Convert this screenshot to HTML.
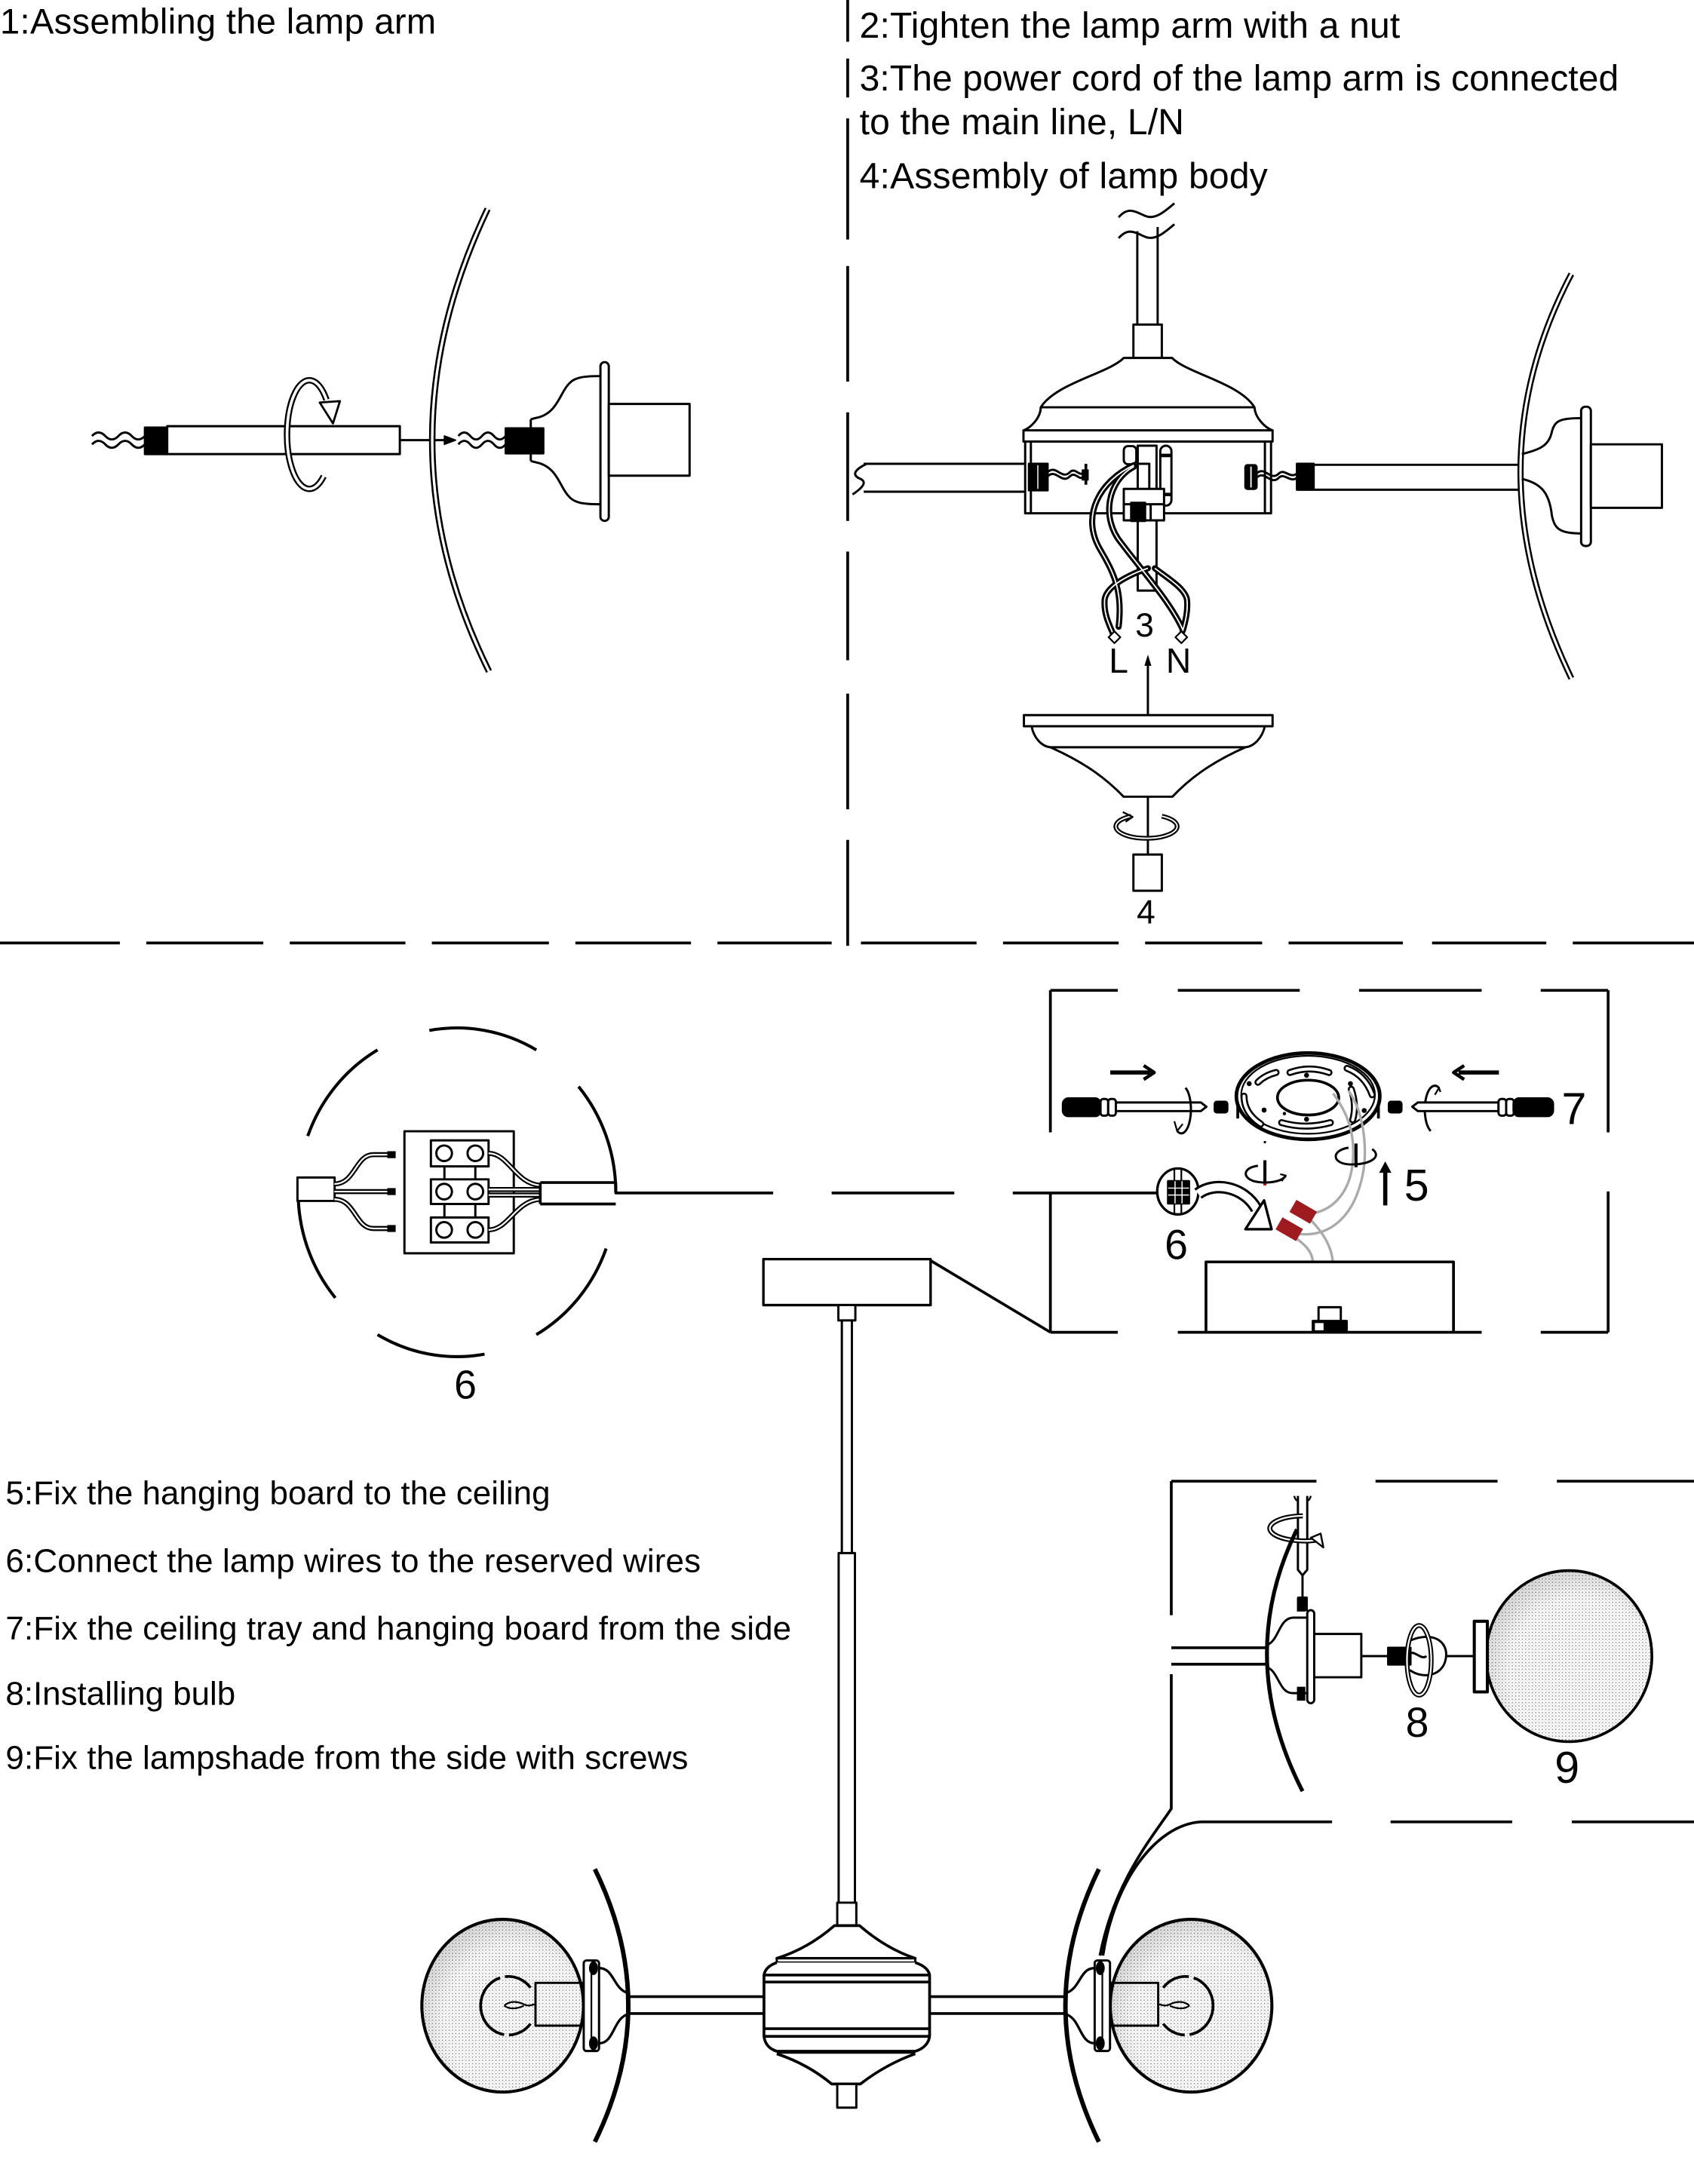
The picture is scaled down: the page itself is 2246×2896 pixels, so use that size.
<!DOCTYPE html>
<html><head><meta charset="utf-8">
<style>
html,body{margin:0;padding:0;background:#fff}
svg{display:block}
text{font-family:"Liberation Sans",Arial,sans-serif;fill:#000;stroke:none}
</style></head><body>
<svg xmlns="http://www.w3.org/2000/svg" width="2246" height="2896" viewBox="0 0 1216 1568">
<defs>
<pattern id="dots" width="2.4" height="2.4" patternUnits="userSpaceOnUse">
<rect width="2.4" height="2.4" fill="#fff"/>
<circle cx="0.8" cy="0.8" r="0.5" fill="#8a8a8a"/>
<circle cx="2" cy="1.9" r="0.3" fill="#aaa"/>
</pattern>
<radialGradient id="sg" cx="0.58" cy="0.6" r="0.62">
<stop offset="0.7" stop-color="#000" stop-opacity="0"/>
<stop offset="1" stop-color="#000" stop-opacity="0.14"/>
</radialGradient>
</defs>
<rect width="1216" height="1568" fill="#fff"/>

<!-- ============ TEXT ============ -->
<text x="0" y="24" font-size="25.5" textLength="313">1:Assembling the lamp arm</text>
<text x="617" y="27" font-size="26" textLength="388">2:Tighten the lamp arm with a nut</text>
<text x="617" y="65" font-size="26" textLength="545">3:The power cord of the lamp arm is connected</text>
<text x="617" y="96.5" font-size="26" textLength="233">to the main line, L/N</text>
<text x="617" y="135" font-size="26" textLength="293">4:Assembly of lamp body</text>

<text x="4" y="1080" font-size="23.8" textLength="391">5:Fix the hanging board to the ceiling</text>
<text x="4" y="1128.5" font-size="23.8" textLength="499">6:Connect the lamp wires to the reserved wires</text>
<text x="4" y="1177" font-size="23.8" textLength="564">7:Fix the ceiling tray and hanging board from the side</text>
<text x="4" y="1224" font-size="23.8" textLength="165">8:Installing bulb</text>
<text x="4" y="1270" font-size="23.8" textLength="490">9:Fix the lampshade from the side with screws</text>

<text x="815" y="457" font-size="24">3</text>
<text x="796" y="483" font-size="25">L</text>
<text x="837" y="483" font-size="25">N</text>
<text x="872" y="352" font-size="24">2</text>
<text x="816" y="663" font-size="24">4</text>
<text x="326" y="1004" font-size="29">6</text>
<text x="836" y="904" font-size="30">6</text>
<text x="1008" y="862" font-size="32">5</text>
<text x="1121" y="807" font-size="32">7</text>
<text x="1009" y="1247" font-size="30">8</text>
<text x="1116" y="1280" font-size="32">9</text>
<text x="304" y="827.7" font-size="9" transform="rotate(90 300.6 827.7)">N</text>
<text x="296" y="859.5" font-size="11">O</text>
<text x="304" y="881.2" font-size="9" transform="rotate(90 300.6 881.2)">L</text>

<g fill="none" stroke="#000" stroke-width="1.6" stroke-linejoin="round">

<!-- ============ DIVIDERS ============ -->
<g stroke-width="2">
<path d="M608.5,0V30M608.5,42V70M608.5,85V172M608.5,191V274M608.5,296V374M608.5,396V474M608.5,498V581M608.5,603V679"/>
<path d="M0,677H86M105,677H189M208,677H291M310,677H394M413,677H496M515,677H597M618,677H701M720,677H803M822,677H906M925,677H1007M1028,677H1110M1129,677H1216"/>
</g>

<!-- ============ STEP 1 ============ -->
<path d="M66,313 q4.75,-5 9.5,0 t9.5,0 t9.5,0 t9.5,0"/>
<path d="M66,319 q4.75,-5 9.5,0 t9.5,0 t9.5,0 t9.5,0"/>
<rect x="104" y="307" width="16" height="19" fill="#000"/>
<rect x="120" y="306" width="167" height="20" fill="#fff"/>
<path d="M287,316H321"/>
<path d="M319,313 L327,316 L319,319Z" fill="#000" stroke-width="1"/>
<path d="M232.3,341.9 A16,39 0 1 1 234.3,287" stroke-width="4.6"/>
<path d="M232.3,341.9 A16,39 0 1 1 234.3,287" stroke="#fff" stroke-width="2"/>
<path d="M229.5,289 L244,288 L239,304 Z" fill="#fff" stroke-width="1.5"/>
<path d="M350,150 Q270,318 351,482" stroke-width="4.6"/>
<path d="M350,150 Q270,318 351,482" stroke="#fff" stroke-width="1.8"/>
<path d="M329,313 q4.25,-5 8.5,0 t8.5,0 t8.5,0 t8.5,0"/>
<path d="M329,319 q4.25,-5 8.5,0 t8.5,0 t8.5,0 t8.5,0"/>
<path d="M381,301 L385,300 C400,297 402,282 408,276 C412,271 418,270 431,270"/>
<path d="M381,331 L385,332 C400,335 402,350 408,356 C412,361 418,362 431,362"/>
<path d="M381,301V331"/>
<rect x="363" y="307.5" width="27" height="18" fill="#000"/>
<rect x="431" y="260" width="6" height="114" rx="3" fill="#fff"/>
<rect x="437" y="290" width="58" height="51.5" fill="#fff"/>

<!-- ============ STEP 2-4 ============ -->
<path d="M803,156 C810,148 815,152 822,155 C829,158 836,152 843,146"/>
<path d="M803,171 C810,163 815,167 822,170 C829,173 836,167 843,161"/>
<path d="M816.4,166V233M831,163V233"/>
<rect x="813.6" y="233" width="20.4" height="24" fill="#fff"/>
<path d="M806.6,257 H841.4 C852,268 890,275 900.5,292.4 C901,300 908,307 913.5,309 H734.7 C740,307 747,300 747.1,292.4 C758,275 796,268 806.6,257 Z" fill="#fff"/>
<path d="M747.1,292.4H900.5"/>
<rect x="734.7" y="309" width="178.8" height="8" fill="#fff"/>
<rect x="735.9" y="317" width="176.5" height="51.5" fill="#fff"/>
<path d="M740,317V368.5M908,317V368.5"/>
<!-- left arm -->
<path d="M620,333H736M620,353H736"/>
<path d="M622,333 Q608,340 618,344 Q624,347 612,355"/>
<rect x="738.6" y="333" width="13.4" height="19" fill="#000"/>
<path d="M745,334V351" stroke="#fff" stroke-width="0.8"/>
<path d="M752,339 C758,333 762,345 768,339 C772,335 775,343 778,339"/>
<path d="M752,342 C758,336 762,348 768,342 C772,338 775,346 778,342"/>
<path d="M779.5,333V348" stroke-width="2"/>
<rect x="776.5" y="337" width="5" height="8" fill="#000" stroke="none"/>
<!-- center parts -->
<rect x="806.7" y="320.3" width="9" height="13" rx="3" fill="#fff"/>
<rect x="816.7" y="320" width="13.5" height="104" fill="#fff"/>
<path d="M816.7,333H825V351"/>
<rect x="832.9" y="320" width="8" height="43" rx="4" fill="#fff"/>
<path d="M833,327H841M833,355H841" stroke-width="2.5"/>
<rect x="806.7" y="351" width="28.9" height="22.6" fill="#fff"/>
<rect x="812" y="361" width="10" height="13" fill="#000"/>
<path d="M806.7,362H835.6M826,362V373.6"/>
<!-- wires -->
<g stroke-width="4.4" stroke-linecap="round">
<path d="M814,334 C790,345 775,370 790,395 C800,412 806,425 803,450"/>
<path d="M814,335 C795,345 790,372 805,390 C820,410 840,432 849,452"/>
<path d="M824,408 C812,412 795,420 793,430 C792,440 796,448 799,455"/>
<path d="M829,408 C838,415 850,422 852,430 C853,438 851,446 849,453"/>
</g>
<g stroke="#fff" stroke-width="1">
<path d="M814,334 C790,345 775,370 790,395 C800,412 806,425 803,450"/>
<path d="M814,335 C795,345 790,372 805,390 C820,410 840,432 849,452"/>
<path d="M824,408 C812,412 795,420 793,430 C792,440 796,448 799,455"/>
<path d="M829,408 C838,415 850,422 852,430 C853,438 851,446 849,453"/>
</g>
<rect x="797" y="454.5" width="6" height="6" fill="#fff" stroke-width="1.2" transform="rotate(45 800 457.5)"/>
<rect x="845" y="454.5" width="6" height="6" fill="#fff" stroke-width="1.2" transform="rotate(45 848 457.5)"/>
<path d="M824,513.4V476"/>
<path d="M821.5,478 L824,470 L826.5,478Z" fill="#000" stroke="none"/>
<!-- right arm -->
<rect x="894" y="334" width="8" height="17" rx="1.5" fill="#000"/>
<path d="M898,335V350" stroke="#fff" stroke-width="1"/>
<path d="M902,340 C908,334 912,346 918,340 C922,336 926,344 931,340"/>
<path d="M902,343 C908,337 912,349 918,343 C922,339 926,347 931,343"/>
<rect x="931" y="333" width="12" height="18.6" fill="#000"/>
<path d="M943,333.7H1092M943,351.6H1092"/>
<path d="M1128,196.7 Q1055,335 1128,487" stroke-width="4.4"/>
<path d="M1128,196.7 Q1055,335 1128,487" stroke="#fff" stroke-width="1.7"/>
<path d="M1092.4,326 C1105,323 1112,320 1114,310 C1116,302 1120,300.2 1135,300.2"/>
<path d="M1092.4,343.7 C1105,347 1112,352 1114,370 C1116,380 1120,383 1135,383"/>
<rect x="1135" y="292" width="7" height="100" rx="3" fill="#fff"/>
<rect x="1142" y="319" width="51" height="45.6" fill="#fff"/>
<!-- lower cup -->
<rect x="735" y="513.4" width="178.5" height="8" fill="#fff"/>
<path d="M740.5,521.3 C742,530 748,536 754,536.5 H894 C900,536 906,530 908,521.3"/>
<path d="M754,536.5 C780,548 795,560 806.6,572 H841.6 C853,560 868,548 894,536.5"/>
<path d="M824,572V613.5"/>
<path d="M812,586 A22,8.5 0 1 0 834,586" stroke-width="3.4"/>
<path d="M812,586 A22,8.5 0 1 0 834,586" stroke="#fff" stroke-width="1"/>
<path d="M806,583 L813,586.5 L808,590" stroke-width="1.3"/>
<rect x="813.6" y="613.5" width="20.4" height="26" fill="#fff"/>

<!-- ============ STEP 6 CIRCLE ============ -->
<g stroke-width="2.2">
<path d="M308.2,739.8 A114,118 0 0 1 385,753.8"/>
<path d="M220.9,815.6 A114,118 0 0 1 271,753.8"/>
<path d="M240.7,931.8 A114,118 0 0 1 214,856"/>
<path d="M347.8,972.2 A114,118 0 0 1 271,958.2"/>
<path d="M435.1,896.4 A114,118 0 0 1 385,958.2"/>
<path d="M415.3,780.1 A114,118 0 0 1 442,856"/>
</g>
<rect x="290.3" y="812.2" width="78.5" height="87.6" fill="#fff"/>
<rect x="309.3" y="818.7" width="41.4" height="18.7" fill="#fff"/>
<rect x="309.3" y="846.7" width="41.4" height="17.7" fill="#fff"/>
<rect x="309.3" y="874.1" width="41.4" height="17.9" fill="#fff"/>
<path d="M319,837.4V846.7M341.2,837.4V846.7M319,864.4V874.1M341.2,864.4V874.1"/>
<circle cx="318.8" cy="828" r="5.6"/><circle cx="341.2" cy="828" r="5.6"/>
<circle cx="318.8" cy="855.5" r="5.6"/><circle cx="341.2" cy="855.5" r="5.6"/>
<circle cx="318.8" cy="883" r="5.6"/><circle cx="341.2" cy="883" r="5.6"/>
<rect x="213.5" y="845.4" width="26.7" height="16.8" fill="#fff"/>
<g stroke-width="3.6">
<path d="M240,850 C255,850 255,829 268,829 L279,829"/>
<path d="M240,855.5 L279,855.5"/>
<path d="M240,861 C255,861 255,882 268,882 L279,882"/>
<path d="M350.7,828 C365,828 370,850 387.8,851"/>
<path d="M350.7,854 L387.8,854"/>
<path d="M350.7,858 L387.8,858"/>
<path d="M350.7,883 C365,883 370,862 387.8,861"/>
</g>
<g stroke="#fff" stroke-width="1.2">
<path d="M240,850 C255,850 255,829 268,829 L279,829"/>
<path d="M240,855.5 L279,855.5"/>
<path d="M240,861 C255,861 255,882 268,882 L279,882"/>
<path d="M350.7,828 C365,828 370,850 387.8,851"/>
<path d="M350.7,854 L387.8,854"/>
<path d="M350.7,858 L387.8,858"/>
<path d="M350.7,883 C365,883 370,862 387.8,861"/>
</g>
<rect x="278" y="826.5" width="6" height="5" fill="#000" stroke="none"/>
<rect x="278" y="853" width="6" height="5" fill="#000" stroke="none"/>
<rect x="278" y="879.5" width="6" height="5" fill="#000" stroke="none"/>
<path d="M387.8,849 V864.4 M387.8,849 H442 V856.5 H555 M387.8,864.4 H442" stroke-width="2"/>
<path d="M597,856.5H685M727,856.5H831" stroke-width="2"/>

<!-- ============ STEP 5-7 BOX ============ -->
<g stroke-width="2">
<path d="M754,711H802.4M845.5,711H933M975.6,711H1063.6M1106,711H1154.4"/>
<path d="M754,711V813M754,856V956.5M1154.4,711V813M1154.4,855.4V956.5"/>
<path d="M754,956.5H802.4M845.5,956.5H1063.6M1106,956.5H1154.4"/>
<path d="M668,905 L754,956.5"/>
</g>
<rect x="548" y="904" width="120" height="33" fill="#fff" stroke-width="1.8"/>
<rect x="601.8" y="937" width="12.2" height="11" fill="#fff"/>
<path d="M604.3,948V1115M611.5,948V1115"/>
<rect x="602" y="1115" width="11.7" height="251" fill="#fff"/>
<!-- arrows -->
<path d="M797,770H826" stroke-width="3"/>
<path d="M821,765 L828.5,770 L821,775" stroke-width="2.4"/>
<path d="M1076,770H1047" stroke-width="3"/>
<path d="M1051,765 L1043.5,770 L1051,775" stroke-width="2.4"/>
<!-- left screwdriver -->
<rect x="763" y="788.6" width="27" height="12.7" rx="4" fill="#000"/>
<rect x="790" y="789" width="5.5" height="12" rx="2" fill="#fff"/>
<rect x="795.5" y="789" width="5.5" height="12" rx="2" fill="#fff"/>
<path d="M801,791.5 H862 L866,794.6 L862,797.7 H801 Z" fill="#fff"/>
<path d="M851,781 A6.7,16.7 0 1 1 845,812"/>
<path d="M843,805 L845,812 L849,807" stroke-width="1.2"/>
<rect x="872" y="791" width="9" height="7.6" rx="1.5" fill="#000"/>
<!-- right screwdriver -->
<rect x="997" y="791" width="9" height="7.6" rx="1.5" fill="#000"/>
<path d="M1033,781 A7,16.5 0 1 0 1027,812"/>
<path d="M1034,784 L1033,781 L1030,786" stroke-width="1.2"/>
<path d="M1075.7,791.5 H1017.8 L1013.8,794.6 L1017.8,797.7 H1075.7 Z" fill="#fff"/>
<rect x="1075.7" y="789" width="5.5" height="12" rx="2" fill="#fff"/>
<rect x="1081.2" y="789" width="5.5" height="12" rx="2" fill="#fff"/>
<rect x="1086.5" y="788.6" width="28.3" height="12.7" rx="4" fill="#000"/>
<!-- ceiling plate -->
<ellipse cx="939" cy="787" rx="51.5" ry="31" fill="#fff" stroke-width="2.6"/>
<ellipse cx="939" cy="786" rx="48" ry="28" stroke-width="1.2"/>
<ellipse cx="939" cy="788" rx="22" ry="12.5" stroke-width="2"/>
<g stroke-width="5" stroke-linecap="round">
<path d="M926,770 Q940,765 954,770"/><path d="M920,806 Q937,811 955,806"/>
<path d="M893,787 Q893,799 905,807"/><path d="M903,777 Q908,772 916,770"/>
<path d="M970,782 Q974,794 971,804"/><path d="M967,767 Q980,772 985,786"/>
</g>
<g stroke="#fff" stroke-width="2.2" stroke-linecap="round">
<path d="M926,770 Q940,765 954,770"/><path d="M920,806 Q937,811 955,806"/>
<path d="M893,787 Q893,799 905,807"/><path d="M903,777 Q908,772 916,770"/>
<path d="M970,782 Q974,794 971,804"/><path d="M967,767 Q980,772 985,786"/>
</g>
<g fill="#000" stroke="none">
<circle cx="896.7" cy="778" r="1.8"/><circle cx="937.9" cy="772" r="1.8"/><circle cx="969.4" cy="778" r="1.8"/>
<circle cx="907.4" cy="797" r="1.8"/><circle cx="979.3" cy="797.3" r="1.8"/><circle cx="937.9" cy="803.6" r="1.8"/>
<circle cx="922" cy="799.5" r="1.2"/><circle cx="908" cy="820" r="0.9"/>
</g>
<path d="M888.5,792V803M989.5,792V803" stroke-width="2"/>
<!-- grey wires -->
<g stroke="#aaa" stroke-width="1.8">
<path d="M957,785 C968,800 973,815 971,835 C969,855 958,868 943,871"/>
<path d="M968,783 C980,800 983,830 976,852 C970,872 956,888 933,886"/>
<path d="M940,875 C950,885 956,895 956.7,906"/>
<path d="M929,888 C936,893 942,898 942.4,906"/>
</g>
<rect x="927" y="865" width="17" height="10" fill="#9e1b1f" stroke="none" transform="rotate(30 935.5 870)"/>
<rect x="917" y="877.5" width="17" height="10" fill="#9e1b1f" stroke="none" transform="rotate(30 925.5 882.5)"/>
<!-- center screws -->
<path d="M908,833V851" stroke-width="2.2"/>
<circle cx="908" cy="850" r="1.1" fill="#c00" stroke="none"/>
<path d="M903,837 C893,838 891,845 900,848 C908,850 920,849 923,844" />
<path d="M919,843 L923,844 L920,848" stroke-width="1.2"/>
<path d="M973.4,821V838" stroke-width="2.2"/>
<path d="M968,824 C955,826 956,836 970,836 C985,836 992,830 985,825"/>
<path d="M994.4,865.4V840" stroke-width="3"/>
<path d="M990,842 L994.4,833.8 L998.8,842Z" fill="#000" stroke="none"/>
<!-- 6 icon -->
<ellipse cx="845.5" cy="855.4" rx="14.8" ry="16.5" fill="#fff" stroke-width="1.8"/>
<path d="M843,840V871M848,840V871" stroke-width="1.2"/>
<rect x="838.5" y="848" width="15" height="16" fill="#000"/>
<path d="M838.5,853H853.5M838.5,858H853.5M843.5,848V864M848.5,848V864" stroke="#fff" stroke-width="0.8"/>
<path d="M860,857 C872,848 893,852 902,868" stroke-width="9"/>
<path d="M860,857 C872,848 893,852 902,868" stroke="#fff" stroke-width="5.6"/>
<path d="M894,882.5 L912.8,882.5 L907.4,861.8 Z" fill="#fff" stroke-width="1.8"/>
<!-- ceiling box -->
<rect x="865.7" y="906" width="177.7" height="50.5" fill="#fff" stroke-width="2"/>
<rect x="946.5" y="938.5" width="16" height="11" fill="#fff"/>
<rect x="942.4" y="948.4" width="24.3" height="8.1" fill="#000"/>
<rect x="943.5" y="949.5" width="7" height="6" fill="#fff" stroke-width="0.8"/>

<!-- ============ STEP 8-9 BOX ============ -->
<g stroke-width="2">
<path d="M840.8,1063.4H945M987.4,1063.4H1075M1117.6,1063.4H1216"/>
<path d="M840.8,1063.4V1159.6M840.8,1202V1298.5 C828,1318 800,1350 789.6,1404"/>
<path d="M862,1308H956.2M998.2,1308H1085.5M1128.3,1308H1216"/>
<path d="M862,1308 C830,1310 800,1350 791.7,1404"/>
<path d="M840.8,1183H909.5M840.8,1194.8H909.5"/>
</g>
<!-- screwdriver top -->
<path d="M929,1074 Q931,1080 933,1075 M937,1075 Q939,1080 941,1074" stroke-width="1.3"/>
<path d="M931.7,1074 V1127 L935,1131 L938.4,1127 V1074" fill="#fff"/>
<path d="M935,1131V1148"/>
<rect x="932" y="1147" width="6" height="9" fill="#000"/>
<path d="M935.2,1088.3 A24.7,9 0 1 0 949,1105" stroke-width="3.6"/>
<path d="M935.2,1088.3 A24.7,9 0 1 0 949,1105" stroke="#fff" stroke-width="1.2"/>
<path d="M941,1104 L950,1111 L948,1101Z" fill="#fff" stroke-width="1.3"/>
<path d="M931,1098 Q886,1190 935,1286" stroke-width="2.8"/>
<path d="M909.5,1181 C918,1178 918,1162 928,1161.4 L938.4,1161.4"/>
<path d="M909.5,1197 C918,1200 918,1215.6 928,1215.6 L938.4,1215.6"/>
<rect x="938.4" y="1156" width="5" height="66.8" rx="2.5" fill="#fff"/>
<rect x="931" y="1147" width="6" height="10" fill="#000" stroke="none"/>
<rect x="931" y="1211" width="6" height="10" fill="#000" stroke="none"/>
<rect x="943.4" y="1173.1" width="33.8" height="31.1" fill="#fff"/>
<path d="M977.2,1189H996.5"/>
<!-- bulb -->
<path d="M1012,1178 C1030,1170 1042,1180 1037,1194 C1033,1204 1020,1205 1012,1199"/>
<path d="M1012,1187 C1016,1185 1020,1192 1024,1189"/>
<rect x="996.5" y="1183" width="16" height="12" fill="#000"/>
<ellipse cx="1018.7" cy="1192" rx="8.7" ry="25" stroke-width="3.4"/>
<ellipse cx="1018.7" cy="1192" rx="8.7" ry="25" stroke="#fff" stroke-width="1.2"/>
<path d="M1038.5,1189H1058.3"/>
<ellipse cx="1126.3" cy="1189" rx="59.5" ry="61.4" fill="url(#dots)" stroke="none"/>
<ellipse cx="1126.3" cy="1189" rx="59.5" ry="61.4" fill="url(#sg)" stroke-width="2"/>
<rect x="1058.3" y="1164" width="9.4" height="50.7" fill="#fff" stroke-width="2.2"/>

<!-- ============ CHANDELIER ============ -->
<rect x="601" y="1366" width="13.7" height="16.5" fill="#fff"/>
<path d="M599,1382.5 H617 Q636,1399 657,1406 H557.6 Q580,1399 599,1382.5Z" fill="#fff" stroke-width="2"/>
<path d="M557.6,1406 H657 V1409 H557.6 Z" fill="#fff" stroke-width="1.6"/>
<path d="M557.6,1409 C552,1411 549,1414 548.4,1418 V1462 C549,1467 552,1471 557.6,1472.7 H657 C663,1471 666.6,1467 667.3,1462 V1418 C666.6,1414 663,1411 657,1409" fill="#fff" stroke-width="2"/>
<path d="M548.4,1418H667.3M548.4,1423H667.3M548.4,1456.5H667.3M548.4,1462H667.3M557.6,1474.5H657" stroke-width="2"/>
<path d="M557.6,1474.5 Q580,1482 597,1496.2 H617.6 Q636,1482 657,1474.5" fill="#fff" stroke-width="2"/>
<rect x="601" y="1496.2" width="13.7" height="17" fill="#fff"/>

<g id="lampL">
<ellipse cx="360.8" cy="1440" rx="58" ry="62" fill="url(#dots)" stroke-width="2.2"/>
<path d="M380.8,1427.1 A20,21 0 1 0 380.8,1452.9" stroke-width="2" stroke-dasharray="21 3.5 55 3.5 40"/>
<path d="M362,1440 C366,1436 372,1437 376,1439 C380,1441 382,1439 384.4,1439 M362,1440 C366,1443 372,1442 376,1440" stroke-width="1.2"/>
<rect x="384.4" y="1423.6" width="34.3" height="30.7"/>
<path d="M430,1413 C441,1413 440,1428 451,1431" stroke-width="1.8"/>
<path d="M430,1467 C441,1467 440,1449 451,1446" stroke-width="1.8"/>
<rect x="419" y="1407.5" width="11" height="65" rx="2" fill="#fff"/>
<path d="M424.5,1410V1470" stroke-width="1.2"/>
<ellipse cx="426" cy="1413" rx="3.2" ry="5" fill="#000" stroke="none"/>
<ellipse cx="426" cy="1467" rx="3.2" ry="5" fill="#000" stroke="none"/>
<path d="M451,1433.5H548.4M451,1445.6H548.4" stroke-width="2"/>
<path d="M427,1341.9 Q475,1440 427,1537.7" stroke-width="3.2"/>
</g>
<use href="#lampL" transform="translate(1215.8,0) scale(-1,1)"/>
<ellipse cx="360.8" cy="1440" rx="58" ry="62" fill="url(#sg)" stroke="none"/>
<ellipse cx="855" cy="1440" rx="58" ry="62" fill="url(#sg)" stroke="none"/>

</g>
</svg>
</body></html>
